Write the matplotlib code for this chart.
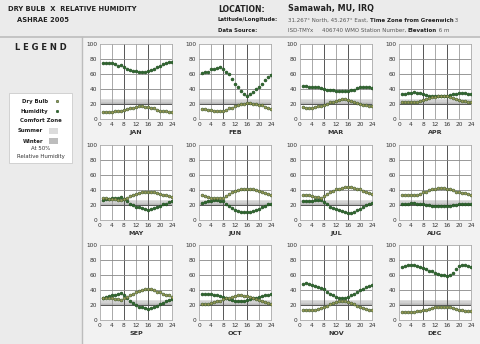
import matplotlib
matplotlib.use("Agg")
import matplotlib.pyplot as plt
from matplotlib.patches import Rectangle
from matplotlib.lines import Line2D

months = ["JAN", "FEB", "MAR", "APR", "MAY", "JUN", "JUL", "AUG", "SEP", "OCT", "NOV", "DEC"]
hours = list(range(1, 25))

humidity = {
    "JAN": [75, 75, 74, 74, 73, 71, 72, 69, 67, 65, 64, 64, 62, 62, 63, 64, 65, 67, 69, 71, 73, 75, 76, 76],
    "FEB": [61, 62, 63, 66, 67, 68, 69, 66, 62, 60, 53, 46, 42, 37, 33, 31, 33, 36, 40, 42, 47, 52, 56, 58],
    "MAR": [44, 44, 43, 43, 43, 42, 41, 40, 39, 38, 38, 37, 37, 37, 37, 37, 38, 39, 41, 42, 42, 42, 42, 41],
    "APR": [33, 33, 34, 35, 36, 35, 34, 33, 32, 31, 30, 30, 30, 30, 30, 31, 32, 33, 33, 34, 34, 34, 33, 33],
    "MAY": [27, 28, 28, 29, 29, 30, 31, 28, 25, 22, 20, 18, 17, 16, 15, 14, 15, 16, 17, 19, 21, 22, 24, 25],
    "JUN": [23, 24, 25, 26, 27, 27, 26, 25, 22, 19, 16, 14, 12, 11, 11, 11, 11, 12, 13, 15, 17, 19, 21, 22],
    "JUL": [25, 26, 26, 26, 27, 27, 27, 24, 21, 18, 16, 15, 13, 12, 11, 10, 10, 11, 13, 15, 18, 20, 22, 23],
    "AUG": [22, 22, 22, 23, 23, 22, 22, 21, 20, 20, 19, 19, 19, 19, 19, 19, 19, 20, 20, 21, 21, 22, 22, 22],
    "SEP": [30, 31, 32, 33, 34, 35, 36, 34, 30, 26, 23, 20, 18, 17, 16, 15, 16, 17, 19, 21, 23, 25, 27, 28],
    "OCT": [35, 35, 35, 35, 34, 33, 32, 31, 30, 28, 27, 26, 26, 26, 26, 27, 28, 29, 30, 31, 32, 33, 34, 35],
    "NOV": [48, 49, 48, 47, 46, 44, 43, 41, 38, 35, 33, 31, 30, 30, 30, 31, 33, 35, 37, 40, 42, 44, 45, 47],
    "DEC": [71, 72, 73, 74, 73, 72, 71, 70, 68, 66, 65, 63, 61, 60, 60, 59, 60, 63, 68, 72, 74, 73, 72, 71],
}

dry_bulb = {
    "JAN": [9, 9, 9, 9, 10, 11, 10, 12, 13, 14, 15, 16, 17, 17, 16, 16, 15, 14, 12, 11, 11, 10, 9, 9],
    "FEB": [13, 13, 12, 12, 11, 11, 10, 11, 12, 14, 15, 17, 19, 20, 20, 21, 21, 20, 20, 19, 18, 16, 15, 13],
    "MAR": [16, 15, 15, 15, 16, 17, 17, 19, 20, 22, 23, 24, 25, 26, 26, 25, 24, 23, 21, 20, 19, 18, 17, 17],
    "APR": [22, 22, 22, 22, 22, 23, 24, 25, 27, 28, 29, 29, 30, 30, 30, 30, 29, 28, 26, 25, 24, 24, 23, 23],
    "MAY": [29, 29, 28, 28, 28, 27, 27, 28, 30, 32, 34, 35, 36, 37, 38, 38, 38, 37, 36, 35, 34, 33, 32, 31],
    "JUN": [33, 32, 31, 30, 29, 29, 29, 30, 32, 35, 37, 39, 40, 41, 42, 42, 42, 41, 40, 39, 37, 36, 35, 34],
    "JUL": [34, 34, 33, 32, 31, 31, 30, 32, 35, 37, 39, 41, 42, 43, 44, 44, 44, 43, 42, 41, 39, 38, 36, 35],
    "AUG": [34, 34, 33, 33, 34, 34, 35, 37, 38, 40, 41, 42, 43, 43, 43, 42, 41, 40, 38, 37, 36, 36, 35, 34],
    "SEP": [30, 29, 29, 29, 28, 28, 27, 29, 31, 33, 35, 37, 39, 40, 41, 41, 41, 40, 38, 37, 35, 34, 33, 31],
    "OCT": [22, 22, 22, 23, 24, 25, 26, 28, 29, 30, 31, 32, 33, 33, 32, 32, 31, 29, 28, 27, 26, 24, 23, 22],
    "NOV": [14, 13, 13, 13, 14, 15, 16, 17, 19, 21, 23, 24, 25, 25, 25, 24, 23, 22, 19, 17, 16, 15, 14, 14],
    "DEC": [11, 11, 11, 11, 11, 12, 12, 13, 14, 15, 16, 17, 17, 17, 17, 17, 17, 16, 15, 14, 13, 12, 12, 12],
}

x_ticks = [0, 4, 8, 12, 16, 20, 24]
y_ticks = [0, 20, 40, 60, 80, 100]

HUM_FACE = "#2f6a2f"
HUM_EDGE = "#1e4a1e"
DRY_FACE = "#9a9a55"
DRY_EDGE = "#3c5a2c"

W, H = 480, 344
fig = plt.figure(figsize=(4.8, 3.44), dpi=100)
fig.patch.set_facecolor("#ebebeb")
renderer = fig.canvas.get_renderer()

def fx(px):
    return px / W

def fy(py):
    return 1 - py / H

def seg_line(x0, y, segments, size):
    x = x0
    for txt, bold in segments:
        t = fig.text(fx(x), fy(y), txt, fontsize=size, fontweight="bold" if bold else "normal",
                     va="center", color="#222222" if bold else "#555555")
        x += t.get_window_extent(renderer=renderer).width

# header separator and legend panel border
fig.add_artist(Line2D([0, 1], [fy(36.5), fy(36.5)], color="#bdbdbd", lw=1.2))
fig.add_artist(Line2D([fx(82), fx(82)], [fy(37), fy(344)], color="#bdbdbd", lw=1.0))
fig.add_artist(Rectangle((fx(83), 0), 1 - fx(83), fy(37.5), facecolor="#f2f2f2", edgecolor="none", zorder=0))

# header texts
fig.text(fx(8), fy(9), "DRY BULB  X  RELATIVE HUMIDITY", fontsize=4.9, fontweight="bold", va="center", color="#222222")
fig.text(fx(17), fy(20), "ASHRAE 2005", fontsize=4.9, fontweight="bold", va="center", color="#222222")
fig.text(fx(218), fy(9), "LOCATION:", fontsize=5.6, fontweight="bold", va="center", color="#222222")
fig.text(fx(288), fy(9), "Samawah, MU, IRQ", fontsize=5.8, fontweight="bold", va="center", color="#222222")
fig.text(fx(218), fy(20), "Latitude/Longitude:", fontsize=3.9, fontweight="bold", va="center", color="#222222")
fig.text(fx(218), fy(30), "Data Source:", fontsize=3.9, fontweight="bold", va="center", color="#222222")
seg_line(288, 20, [("31.267° North, 45.267° East, ", False), ("Time Zone from Greenwich", True), (" 3", False)], 3.95)
seg_line(288, 30, [("ISD-TMYx     406740 WMO Station Number, ", False), ("Elevation", True), (" 6 m", False)], 3.95)

# legend panel
fig.text(fx(41), fy(48), "L E G E N D", fontsize=6.0, fontweight="bold", ha="center", va="center", color="#222222")
fig.add_artist(Rectangle((fx(9), fy(163)), fx(63), fy(93) - fy(163), facecolor="white", edgecolor="#cccccc", lw=0.6))
fig.text(fx(48), fy(101), "Dry Bulb", fontsize=3.9, fontweight="bold", ha="right", va="center", color="#222222")
fig.add_artist(Line2D([fx(57)], [fy(101)], marker="o", ms=1.8, mfc=DRY_FACE, mec=DRY_EDGE, mew=0.4, ls="none"))
fig.text(fx(48), fy(111), "Humidity", fontsize=3.9, fontweight="bold", ha="right", va="center", color="#222222")
fig.add_artist(Line2D([fx(57)], [fy(111)], marker="o", ms=1.8, mfc=HUM_FACE, mec=HUM_EDGE, mew=0.4, ls="none"))
fig.text(fx(41), fy(121), "Comfort Zone", fontsize=3.9, fontweight="bold", ha="center", va="center", color="#222222")
fig.text(fx(43), fy(131), "Summer", fontsize=3.9, fontweight="bold", ha="right", va="center", color="#222222")
fig.add_artist(Rectangle((fx(49), fy(134)), fx(9), fy(128) - fy(134), facecolor="#dcdcdc", edgecolor="none"))
fig.text(fx(43), fy(141), "Winter", fontsize=3.9, fontweight="bold", ha="right", va="center", color="#222222")
fig.add_artist(Rectangle((fx(49), fy(144)), fx(9), fy(138) - fy(144), facecolor="#bdbdbd", edgecolor="none"))
fig.text(fx(41), fy(149), "At 50%", fontsize=3.9, ha="center", va="center", color="#333333")
fig.text(fx(41), fy(157), "Relative Humidity", fontsize=3.9, ha="center", va="center", color="#333333")

col_left = [100, 199, 300, 399]
row_top = [44, 145, 245]
ax_w, ax_h = 72, 75

for i, m in enumerate(months):
    r, c = divmod(i, 4)
    left = col_left[c]
    top = row_top[r]
    ax = fig.add_axes([fx(left), fy(top + ax_h), ax_w / W, ax_h / H])
    ax.set_facecolor("white")
    ax.set_xlim(0, 24)
    ax.set_ylim(0, 100)
    ax.set_xticks(x_ticks)
    ax.set_yticks(y_ticks)
    ax.tick_params(labelsize=4.2, length=0, pad=2, colors="#333333")
    for s in ax.spines.values():
        s.set_color("#aaaaaa")
        s.set_linewidth(0.6)
    shades = ["#b9b9b9", "#c6c6c6", "#d2d2d2", "#dedede"]
    for k, col in enumerate(shades):
        ax.axhspan(20 + 1.6 * k, 20 + 1.6 * (k + 1), color=col, lw=0, zorder=0.5)
    for xv in [4, 12, 20]:
        ax.axvline(xv, color="#9a9a9a", lw=0.6, zorder=1)
    for xv in [8, 16]:
        ax.axvline(xv, color="#555555", lw=0.7, zorder=1)
    for yv in [40, 60, 80]:
        ax.axhline(yv, color="#888888", lw=0.6, zorder=1)
    ax.axhline(20, color="#555555", lw=0.7, zorder=1)
    ax.plot(hours, humidity[m], ls="none", marker="o", ms=2.1, mfc=HUM_FACE, mec=HUM_EDGE, mew=0.4, zorder=3)
    ax.plot(hours, dry_bulb[m], ls="none", marker="o", ms=2.1, mfc=DRY_FACE, mec=DRY_EDGE, mew=0.4, zorder=3)
    ax.set_xlabel(m, fontsize=4.6, fontweight="bold", labelpad=2, color="#333333")

fig.savefig("out.png", dpi=100, facecolor=fig.get_facecolor())
